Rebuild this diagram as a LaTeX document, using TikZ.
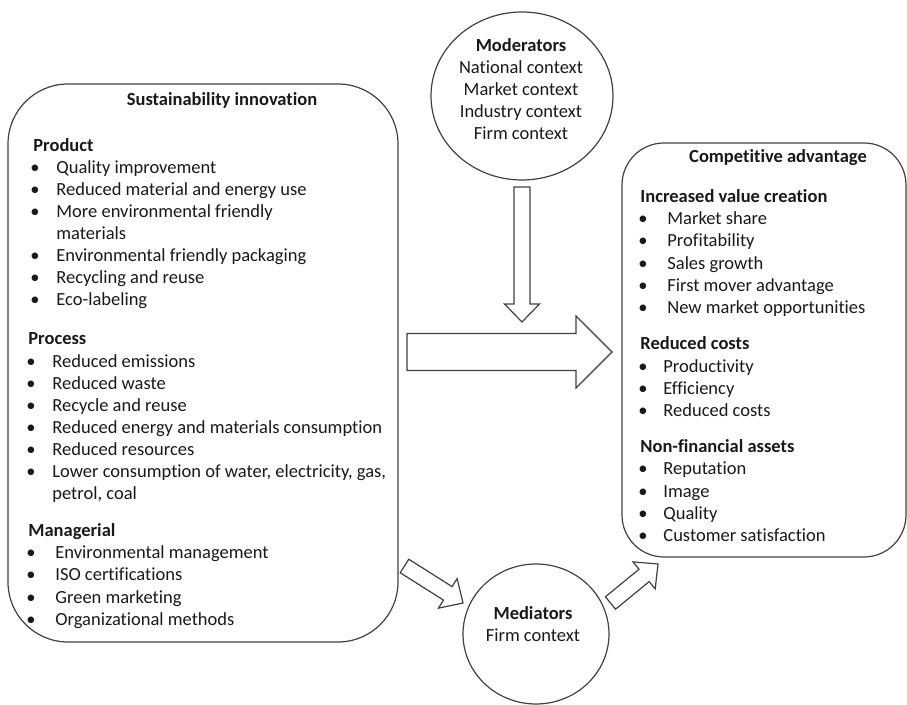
\documentclass[tikz,border=0pt]{standalone}
\usepackage{fontspec}
\setmainfont{Carlito}[Ligatures=NoCommon]
\usepackage{tikz}
\usetikzlibrary{calc, shapes.geometric, positioning}

\begin{document}
\begin{tikzpicture}[x=0.5pt, y=-0.5pt,
	outline/.style={draw=black!75, line width=0.6pt},
	panel/.style={outline, rounded corners=#1, inner sep=0pt},
	oval/.style={outline, ellipse, inner sep=0pt},
	txt/.style={font=\fontsize{9.25}{11}\selectfont, text=black!90, inner sep=0pt},
	heading/.style={txt, font=\fontsize{9.25}{11}\selectfont\bfseries},
	subhead/.style={heading, anchor=mid west, yshift=-1pt},
	item/.style={txt, anchor=mid west, yshift=-1pt},
	dot/.style={txt, anchor=mid, yshift=-1pt},
	blockarrow/.style n args={3}{to path={
		($(\tikztostart)!#1!90:(\tikztotarget)$)
		-- ($($(\tikztotarget)!#3!(\tikztostart)$)!#1!90:(\tikztotarget)$)
		-- ($($(\tikztotarget)!#3!(\tikztostart)$)!#2!90:(\tikztotarget)$)
		-- (\tikztotarget)
		-- ($($(\tikztotarget)!#3!(\tikztostart)$)!#2!-90:(\tikztotarget)$)
		-- ($($(\tikztotarget)!#3!(\tikztostart)$)!#1!-90:(\tikztotarget)$)
		-- ($(\tikztostart)!#1!-90:(\tikztotarget)$)
		-- cycle}},
	thinarrow/.style={outline, blockarrow={4pt}{8.75pt}{9pt}},
	widearrow/.style={outline, blockarrow={9.25pt}{18pt}{18pt}}]
		\useasboundingbox (0,0) rectangle (907,705);
		\node[panel=30pt, minimum width=195pt, minimum height=279pt] (innov) at (203,363) {};
		\node[panel=21pt, minimum width=142pt, minimum height=207pt] (compadv) at (764,350) {};
		\node[oval, minimum width=91pt, minimum height=84pt] (moder) at (522,96) {};
		\node[oval, minimum width=73pt, minimum height=70pt] (medi) at (536,634) {};
		\coordinate (down0) at (522,187);
		\coordinate (down1) at (522,322);
		\coordinate (main0) at (407,352);
		\coordinate (main1) at (612,352);
		\coordinate (in0) at (404.5,566);
		\coordinate (in1) at (463,603);
		\coordinate (out0) at (610.5,603);
		\coordinate (out1) at (658,564);
		\draw[thinarrow] (down0) to (down1);
		\draw[widearrow] (main0) to (main1);
		\draw[thinarrow] (in0) to (in1);
		\draw[thinarrow] (out0) to (out1);
		\node[txt, align=center] (modtxt) at (521,89) {\textbf{Moderators}\\National context\\Market context\\Industry context\\Firm context};
		\node[txt, align=center] (meditxt) at (533,624) {\textbf{Mediators}\\Firm context};
		\node[heading] (innovhd) at (222,100) {Sustainability innovation};
		\node[subhead] (prodhd) at (33,145) {Product};
		\foreach \y/\t [count=\i] in {167/Quality improvement, 189/Reduced material and energy use, 211/More environmental friendly, 255/Environmental friendly packaging, 277/Recycling and reuse, 299/Eco-labeling}{
			\node[dot] (pb\i) at (35,\y) {\textbullet};
			\node[item] (p\i) at (56,\y) {\t};
		}
		\node[item] (p3b) at (56,233) {materials};
		\node[subhead] (prochd) at (28,338) {Process};
		\foreach \y/\t [count=\i] in {361/Reduced emissions, 383/Reduced waste, 405/Recycle and reuse, 427/Reduced energy and materials consumption, 449/Reduced resources, 471/{Lower consumption of water, electricity, gas,}}{
			\node[dot] (rb\i) at (31,\y) {\textbullet};
			\node[item] (r\i) at (52,\y) {\t};
		}
		\node[item] (r6b) at (52,493) {petrol, coal};
		\node[subhead] (mgmthd) at (28,530) {Managerial};
		\foreach \y/\t [count=\i] in {552/Environmental management, 574/ISO certifications, 597/Green marketing, 619/Organizational methods}{
			\node[dot] (mb\i) at (31,\y) {\textbullet};
			\node[item] (m\i) at (55,\y) {\t};
		}
		\node[heading] (advhd) at (778,158) {Competitive advantage};
		\node[subhead] (valhd) at (640,196) {Increased value creation};
		\foreach \y/\t [count=\i] in {218/Market share, 240/Profitability, 263/Sales growth, 285/First mover advantage, 307/New market opportunities}{
			\node[dot] (vb\i) at (643,\y) {\textbullet};
			\node[item] (v\i) at (667,\y) {\t};
		}
		\node[subhead] (costhd) at (640,343) {Reduced costs};
		\foreach \y/\t [count=\i] in {366/Productivity, 388/Efficiency, 410/Reduced costs}{
			\node[dot] (cb\i) at (643,\y) {\textbullet};
			\node[item] (c\i) at (663,\y) {\t};
		}
		\node[subhead] (assethd) at (640,446) {Non-financial assets};
		\foreach \y/\t [count=\i] in {468/Reputation, 491/Image, 513/Quality, 535/Customer satisfaction}{
			\node[dot] (ab\i) at (643,\y) {\textbullet};
			\node[item] (a\i) at (663,\y) {\t};
		}
	\end{tikzpicture}
\end{document}
